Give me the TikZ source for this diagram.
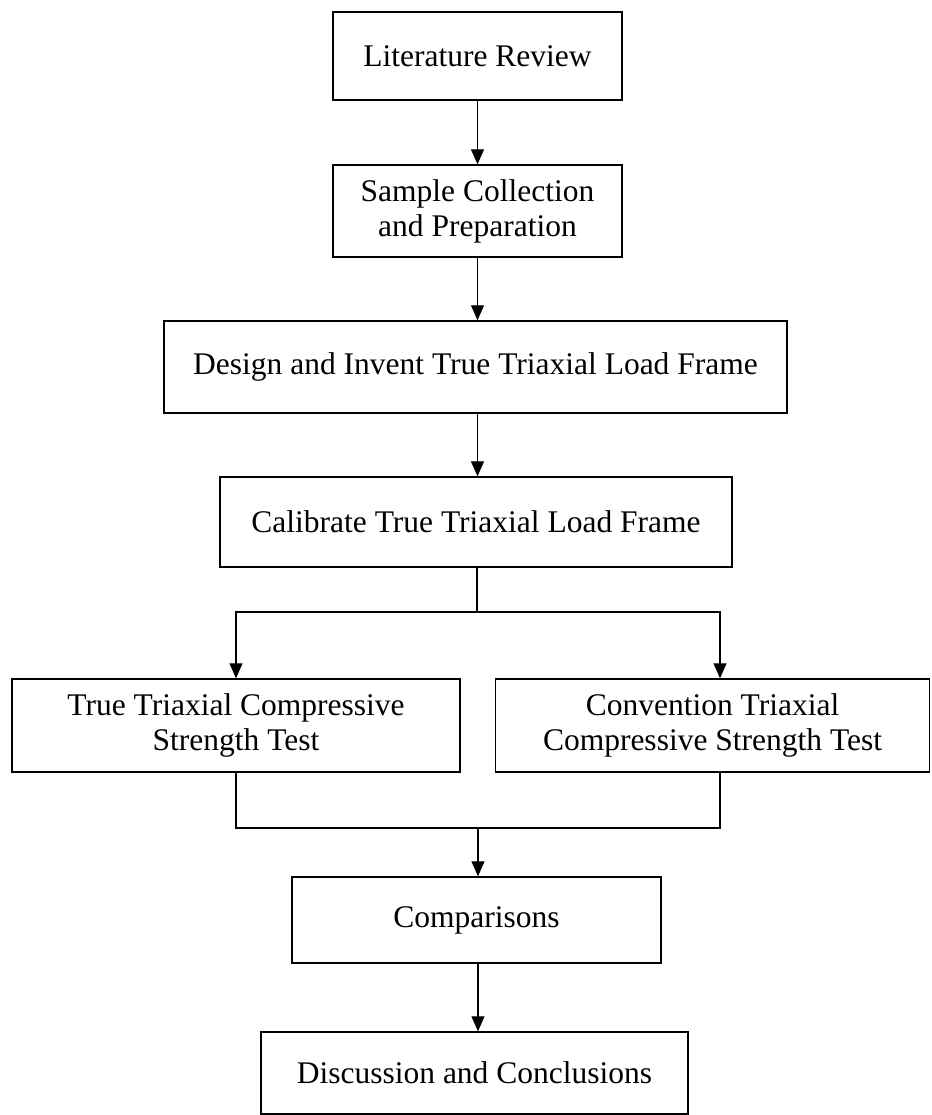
\documentclass[tikz,border=0pt]{standalone}
\usepackage{fontspec}
\setmainfont{Liberation Serif}
\usetikzlibrary{arrows.meta}
\begin{document}
\begin{tikzpicture}[x=1pt,y=-1pt,
  box/.style={draw, line width=1.4pt, rectangle, inner sep=0pt, align=center,
    font=\fontsize{31.5}{35}\selectfont},
  link/.style={line width=1.1pt},
  arr/.style={link, -{Triangle[length=15pt,width=13pt]}}]
\useasboundingbox (0,0) rectangle (931,1115);
\node[box, minimum width=289, minimum height=88] (lit) at (477.5,56) {Literature Review};
\node[box, minimum width=289, minimum height=92] (sam) at (477.5,211) {Sample Collection\\and Preparation};
\node[box, minimum width=623, minimum height=92] (des) at (475.5,367) {Design and Invent True Triaxial Load Frame};
\node[box, minimum width=512, minimum height=90] (cal) at (476,522) {Calibrate True Triaxial Load Frame};
\node[box, minimum width=448, minimum height=93] (tt) at (236,725.5) {True Triaxial Compressive\\Strength Test};
\node[box, minimum width=434, minimum height=93] (ct) at (712.5,725.5) {Convention Triaxial\\Compressive Strength Test};
\node[box, minimum width=369, minimum height=86] (cmp) at (476.5,920) {Comparisons};
\node[box, minimum width=427, minimum height=82] (dis) at (474.5,1073) {Discussion and Conclusions};
\coordinate (br) at (477,612);
\coordinate (mg) at (478,828);
\draw[arr] (lit) -- (sam);
\draw[arr] (sam) -- (sam |- des.north);
\draw[arr] (des.south -| sam) -- (sam |- cal.north);
\draw[link] (br |- cal.south) -- (br);
\draw[arr] (br) -| (tt.north);
\draw[arr] (br) -| ([xshift=7.5pt]ct.north);
\draw[link] (tt.south) |- (mg);
\draw[link] ([xshift=7.5pt]ct.south) |- (mg);
\draw[arr] (mg) -- (mg |- cmp.north);
\draw[arr] (cmp.south -| mg) -- (mg |- dis.north);
\end{tikzpicture}
\end{document}
